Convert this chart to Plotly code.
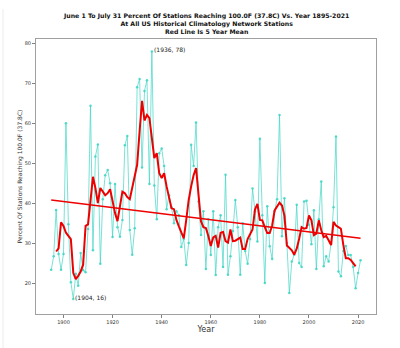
import plotly.graph_objects as go

years = list(range(1895, 2022))
pct = [
    23.3, 26.7, 38.3, 27.3, 23.3, 27.3, 60.0, 34.7, 20.2, 16.0,   # 1895-1904
    22.3, 19.3, 27.5, 23.2, 22.7, 33.5, 64.4, 28.2, 51.7, 54.7,   # 1905-1914
    24.8, 41.0, 47.0, 48.3, 45.0, 31.5, 44.8, 34.0, 31.6, 35.8,   # 1915-1924
    54.5, 56.8, 33.3, 27.1, 33.7, 69.0, 71.1, 48.9, 68.1, 70.8,   # 1925-1934
    44.8, 78.0, 44.4, 36.0, 52.5, 53.7, 49.3, 38.5, 42.0, 39.0,   # 1935-1944
    35.0, 38.0, 37.0, 29.0, 31.0, 24.5, 30.0, 54.6, 49.3, 60.2,   # 1945-1954
    40.4, 32.0, 38.0, 23.5, 36.0, 27.0, 38.0, 22.0, 34.0, 37.0,   # 1955-1964
    24.0, 47.1, 22.1, 26.7, 33.0, 40.8, 34.0, 22.1, 35.0, 28.0,   # 1965-1974
    24.8, 31.0, 43.7, 38.0, 30.4, 56.1, 37.0, 20.0, 39.2, 29.2,   # 1975-1984
    26.0, 38.0, 41.0, 62.1, 31.7, 41.2, 30.0, 17.5, 25.4, 27.1,   # 1985-1994
    39.6, 25.0, 24.0, 40.4, 40.6, 34.6, 29.7, 38.2, 23.5, 36.0,   # 1995-2004
    45.4, 24.2, 26.7, 25.4, 30.0, 39.0, 56.7, 22.9, 21.7, 28.0,   # 2005-2014
    29.3, 27.0, 27.0, 24.0, 18.7, 22.5, 25.7                      # 2015-2021
]

mean_years = list(range(1897, 2020))
mean5 = [
    27.9, 28.7, 35.2, 34.3, 32.6, 31.8, 31.0, 22.5, 21.0, 21.8,   # 1897-1906
    22.9, 24.6, 34.3, 34.7, 40.5, 46.6, 43.8, 40.0, 43.8, 42.9,   # 1907-1916
    42.0, 42.5, 43.5, 40.5, 37.5, 35.5, 39.5, 42.9, 42.5, 41.5,   # 1917-1926
    41.0, 44.0, 46.5, 49.6, 58.0, 65.6, 60.7, 62.1, 61.3, 55.8,   # 1927-1936
    51.3, 52.5, 47.5, 46.3, 47.5, 44.2, 41.2, 38.7, 38.5, 35.8,   # 1937-1946
    34.2, 32.5, 31.2, 35.8, 40.8, 44.2, 47.0, 48.8, 42.0, 35.5,   # 1947-1956
    34.0, 33.8, 31.8, 29.3, 31.4, 31.8, 28.9, 32.6, 32.8, 30.5,   # 1957-1966
    30.1, 33.4, 30.5, 30.6, 31.0, 31.4, 28.5, 28.5, 31.0, 32.2,   # 1967-1976
    33.4, 38.4, 39.8, 35.8, 35.7, 34.0, 32.5, 32.5, 34.4, 38.2,   # 1977-1986
    39.3, 40.1, 39.4, 36.9, 29.4, 28.7, 28.2, 27.1, 28.6, 31.1,   # 1987-1996
    34.0, 33.6, 33.8, 36.9, 35.7, 32.0, 32.4, 35.7, 33.2, 31.5,   # 1997-2006
    31.8, 30.7, 29.5, 35.3, 34.4, 34.0, 33.6, 29.5, 26.2, 26.2,   # 2007-2016
    25.8, 25.0, 24.2                                              # 2017-2019
]

trend_years = [1895, 2021]
trend_vals = [40.8, 31.2]

x_ticks = [1900, 1920, 1940, 1960, 1980, 2000, 2020]
y_ticks = [20, 30, 40, 50, 60, 70, 80]

title_lines = [
    "June 1 To July 31 Percent Of Stations Reaching 100.0F (37.8C) Vs. Year 1895-2021",
    "At All US Historical Climatology Network Stations",
    "Red Line Is 5 Year Mean",
]

FONT = "DejaVu Sans"
fig = go.Figure()
fig.add_trace(go.Scatter(
    x=years, y=pct, mode="lines+markers",
    line=dict(color="rgba(64,214,196,0.7)", width=1),
    marker=dict(color="rgba(64,214,196,0.9)", size=2.5),
    showlegend=False, hoverinfo="skip"))
fig.add_trace(go.Scatter(
    x=mean_years, y=mean5, mode="lines",
    line=dict(color="#ee0000", width=2),
    showlegend=False, hoverinfo="skip"))
fig.add_trace(go.Scatter(
    x=trend_years, y=trend_vals, mode="lines",
    line=dict(color="#ee0000", width=1.5),
    showlegend=False, hoverinfo="skip"))

peak_i = pct.index(max(pct))
low_i = pct.index(min(pct))
for i in (peak_i, low_i):
    fig.add_annotation(
        x=years[i], y=pct[i], text="(%d, %d)" % (years[i], round(pct[i])),
        showarrow=False, xanchor="left", yanchor="middle", xshift=0, yshift=2,
        font=dict(family=FONT, size=6, color="#222"))

fig.add_annotation(
    x=0.5, y=1, xref="paper", yref="paper", yshift=2,
    xanchor="center", yanchor="bottom", showarrow=False,
    text="<br>".join("<b>%s</b>" % t for t in title_lines),
    font=dict(family=FONT, size=6.2, color="#111"))

# faint frame line at the left edge of the picture
fig.add_shape(type="line", xref="paper", yref="paper",
              x0=-33 / 340, x1=-33 / 340, y0=-34 / 275, y1=1 + 30 / 275,
              line=dict(color="#ececec", width=1))

axis_common = dict(
    showline=True, linecolor="#a0a0a0", linewidth=1, mirror=True,
    showgrid=False, zeroline=False, ticks="outside", ticklen=3,
    tickcolor="#808080", tickfont=dict(family=FONT, size=5, color="#333"))

fig.update_layout(
    width=400, height=348,
    margin=dict(l=36, r=24, t=39, b=34),
    paper_bgcolor="white", plot_bgcolor="white",
    xaxis=dict(range=[1888.8, 2027.3], tickvals=x_ticks,
               title=dict(text="Year", font=dict(family=FONT, size=8, color="#333"), standoff=2),
               **axis_common),
    yaxis=dict(range=[12.25, 81.1], tickvals=y_ticks,
               title=dict(text="Percent Of Stations Reaching 100.0F (37.8C)",
                          font=dict(family=FONT, size=6, color="#333"), standoff=1),
               **axis_common),
)

fig.write_html("out.html")
